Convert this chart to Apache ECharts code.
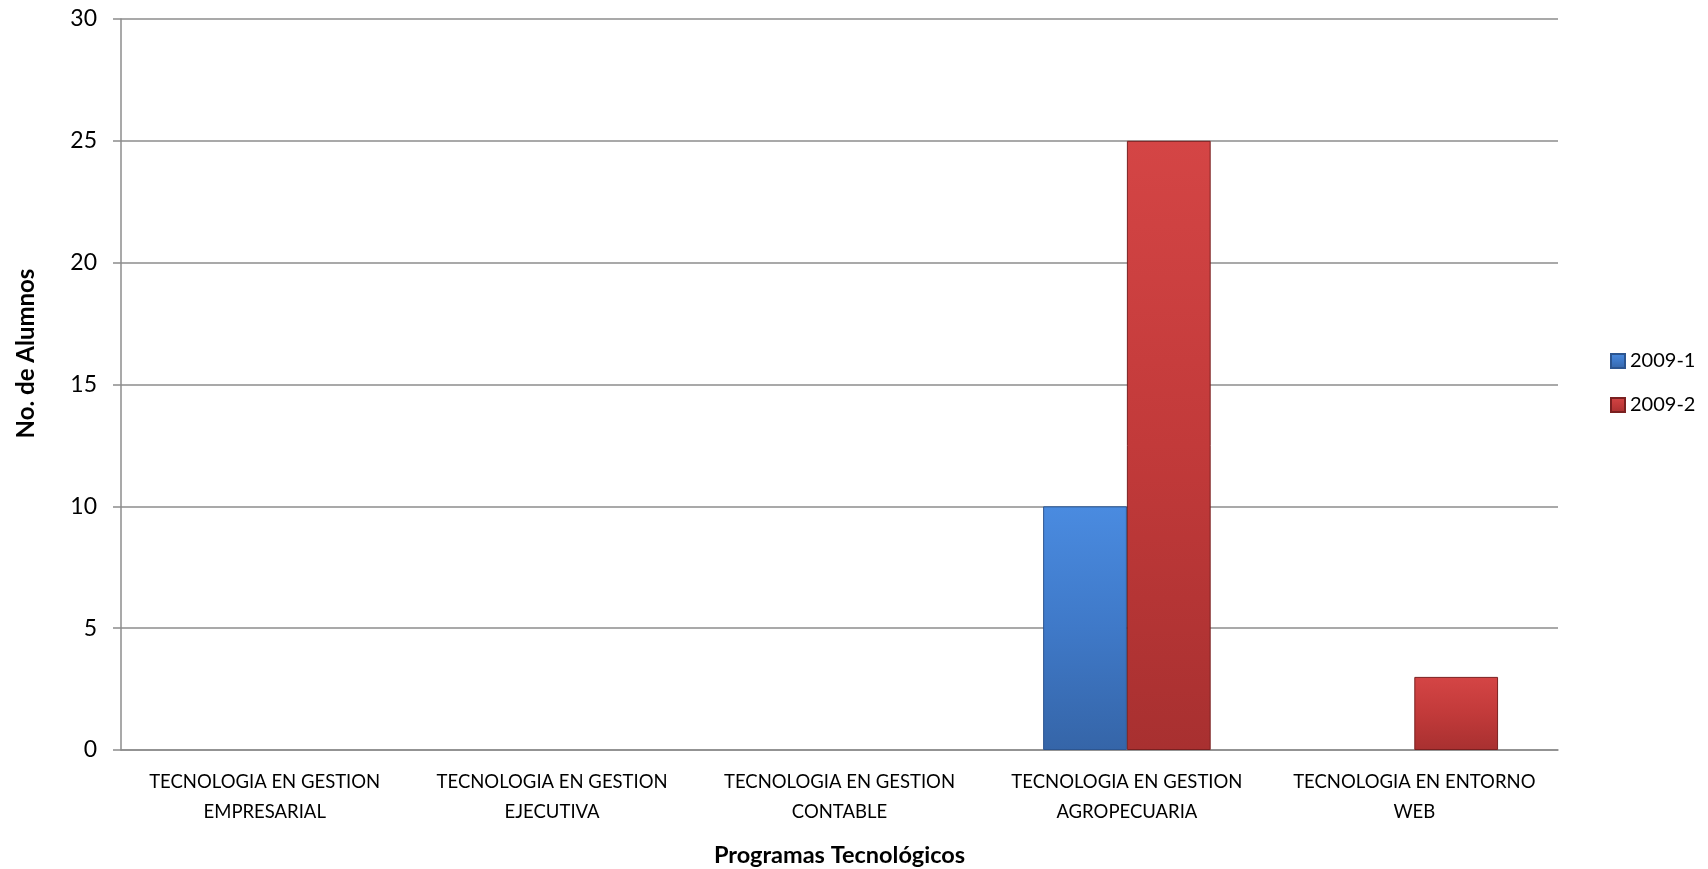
<!DOCTYPE html>
<html>
<head>
<meta charset="utf-8">
<script src="https://cdn.jsdelivr.net/npm/echarts@6/dist/echarts.min.js"></script>
<style>
  html, body { margin: 0; padding: 0; background: #fff; }
  #chart { width: 1708px; height: 869px; }
</style>
</head>
<body>
<div id="chart"></div>
<script>
  // categorias y valores
  var programas = [
    'TECNOLOGIA EN GESTION EMPRESARIAL',
    'TECNOLOGIA EN GESTION EJECUTIVA',
    'TECNOLOGIA EN GESTION CONTABLE',
    'TECNOLOGIA EN GESTION AGROPECUARIA',
    'TECNOLOGIA EN ENTORNO WEB'
  ];
  var serieNombres = ['2009-1', '2009-2'];
  var valores2009_1 = [null, null, null, 10, null];
  var valores2009_2 = [null, null, null, 25, 3];

  var fuente = 'Lato';

  function grad(top, mid, bottom) {
    return new echarts.graphic.LinearGradient(0, 0, 0, 1, [
      { offset: 0, color: top },
      { offset: 0.5, color: mid },
      { offset: 1, color: bottom }
    ]);
  }

  var option = {
    backgroundColor: '#fff',
    animation: false,
    grid: { left: 121, right: 150, top: 19, bottom: 119, containLabel: false, outerBoundsMode: 'none' },
    legend: {
      orient: 'vertical',
      left: 1605,
      top: 346,
      itemWidth: 14,
      itemHeight: 14,
      itemGap: 24,
      icon: 'rect',
      textStyle: { fontFamily: fuente, fontSize: 20, color: '#000' },
      data: serieNombres
    },
    xAxis: {
      type: 'category',
      data: programas,
      name: 'Programas Tecnológicos',
      nameLocation: 'middle',
      nameGap: 93,
      nameTextStyle: { fontFamily: fuente, fontSize: 23.5, fontWeight: 'bold', color: '#000' },
      axisLine: { lineStyle: { color: '#8c8c8c', width: 1.5 } },
      axisTick: { length: 7, lineStyle: { color: '#8c8c8c', width: 1.5 } },
      axisLabel: {
        interval: 0,
        margin: 17,
        lineHeight: 30,
        fontFamily: fuente,
        fontSize: 18.5,
        color: '#000',
        formatter: function (v) {
          var w = v.split(' ');
          return w.slice(0, 3).join(' ') + '\n' + w.slice(3).join(' ');
        }
      }
    },
    yAxis: {
      type: 'value',
      min: 0,
      max: 30,
      interval: 5,
      name: 'No. de Alumnos',
      nameLocation: 'middle',
      nameGap: 83,
      nameTextStyle: {
        fontFamily: fuente, fontSize: 24, fontWeight: 'bold', color: '#000',
        padding: [0, 0, 0, 62]
      },
      axisLine: { show: true, lineStyle: { color: '#8c8c8c', width: 1.5 } },
      axisTick: { show: true, length: 8, lineStyle: { color: '#8c8c8c', width: 1.5 } },
      splitLine: { lineStyle: { color: '#8c8c8c', width: 1.5 } },
      axisLabel: { margin: 24, fontFamily: fuente, fontSize: 23, color: '#000' }
    },
    series: [
      {
        name: serieNombres[0],
        type: 'bar',
        data: valores2009_1,
        barGap: '0%',
        barCategoryGap: '41.7%',
        itemStyle: {
          color: grad('#4a8be0', '#3f79c8', '#3565a8'),
          borderColor: '#2c5590',
          borderWidth: 1
        }
      },
      {
        name: serieNombres[1],
        type: 'bar',
        data: valores2009_2,
        barGap: '0%',
        barCategoryGap: '41.7%',
        itemStyle: {
          color: grad('#d44545', '#c23a3a', '#a83030'),
          borderColor: '#7a2020',
          borderWidth: 1
        }
      }
    ]
  };

  var chart = echarts.init(document.getElementById('chart'));
  chart.setOption(option);
</script>
</body>
</html>
